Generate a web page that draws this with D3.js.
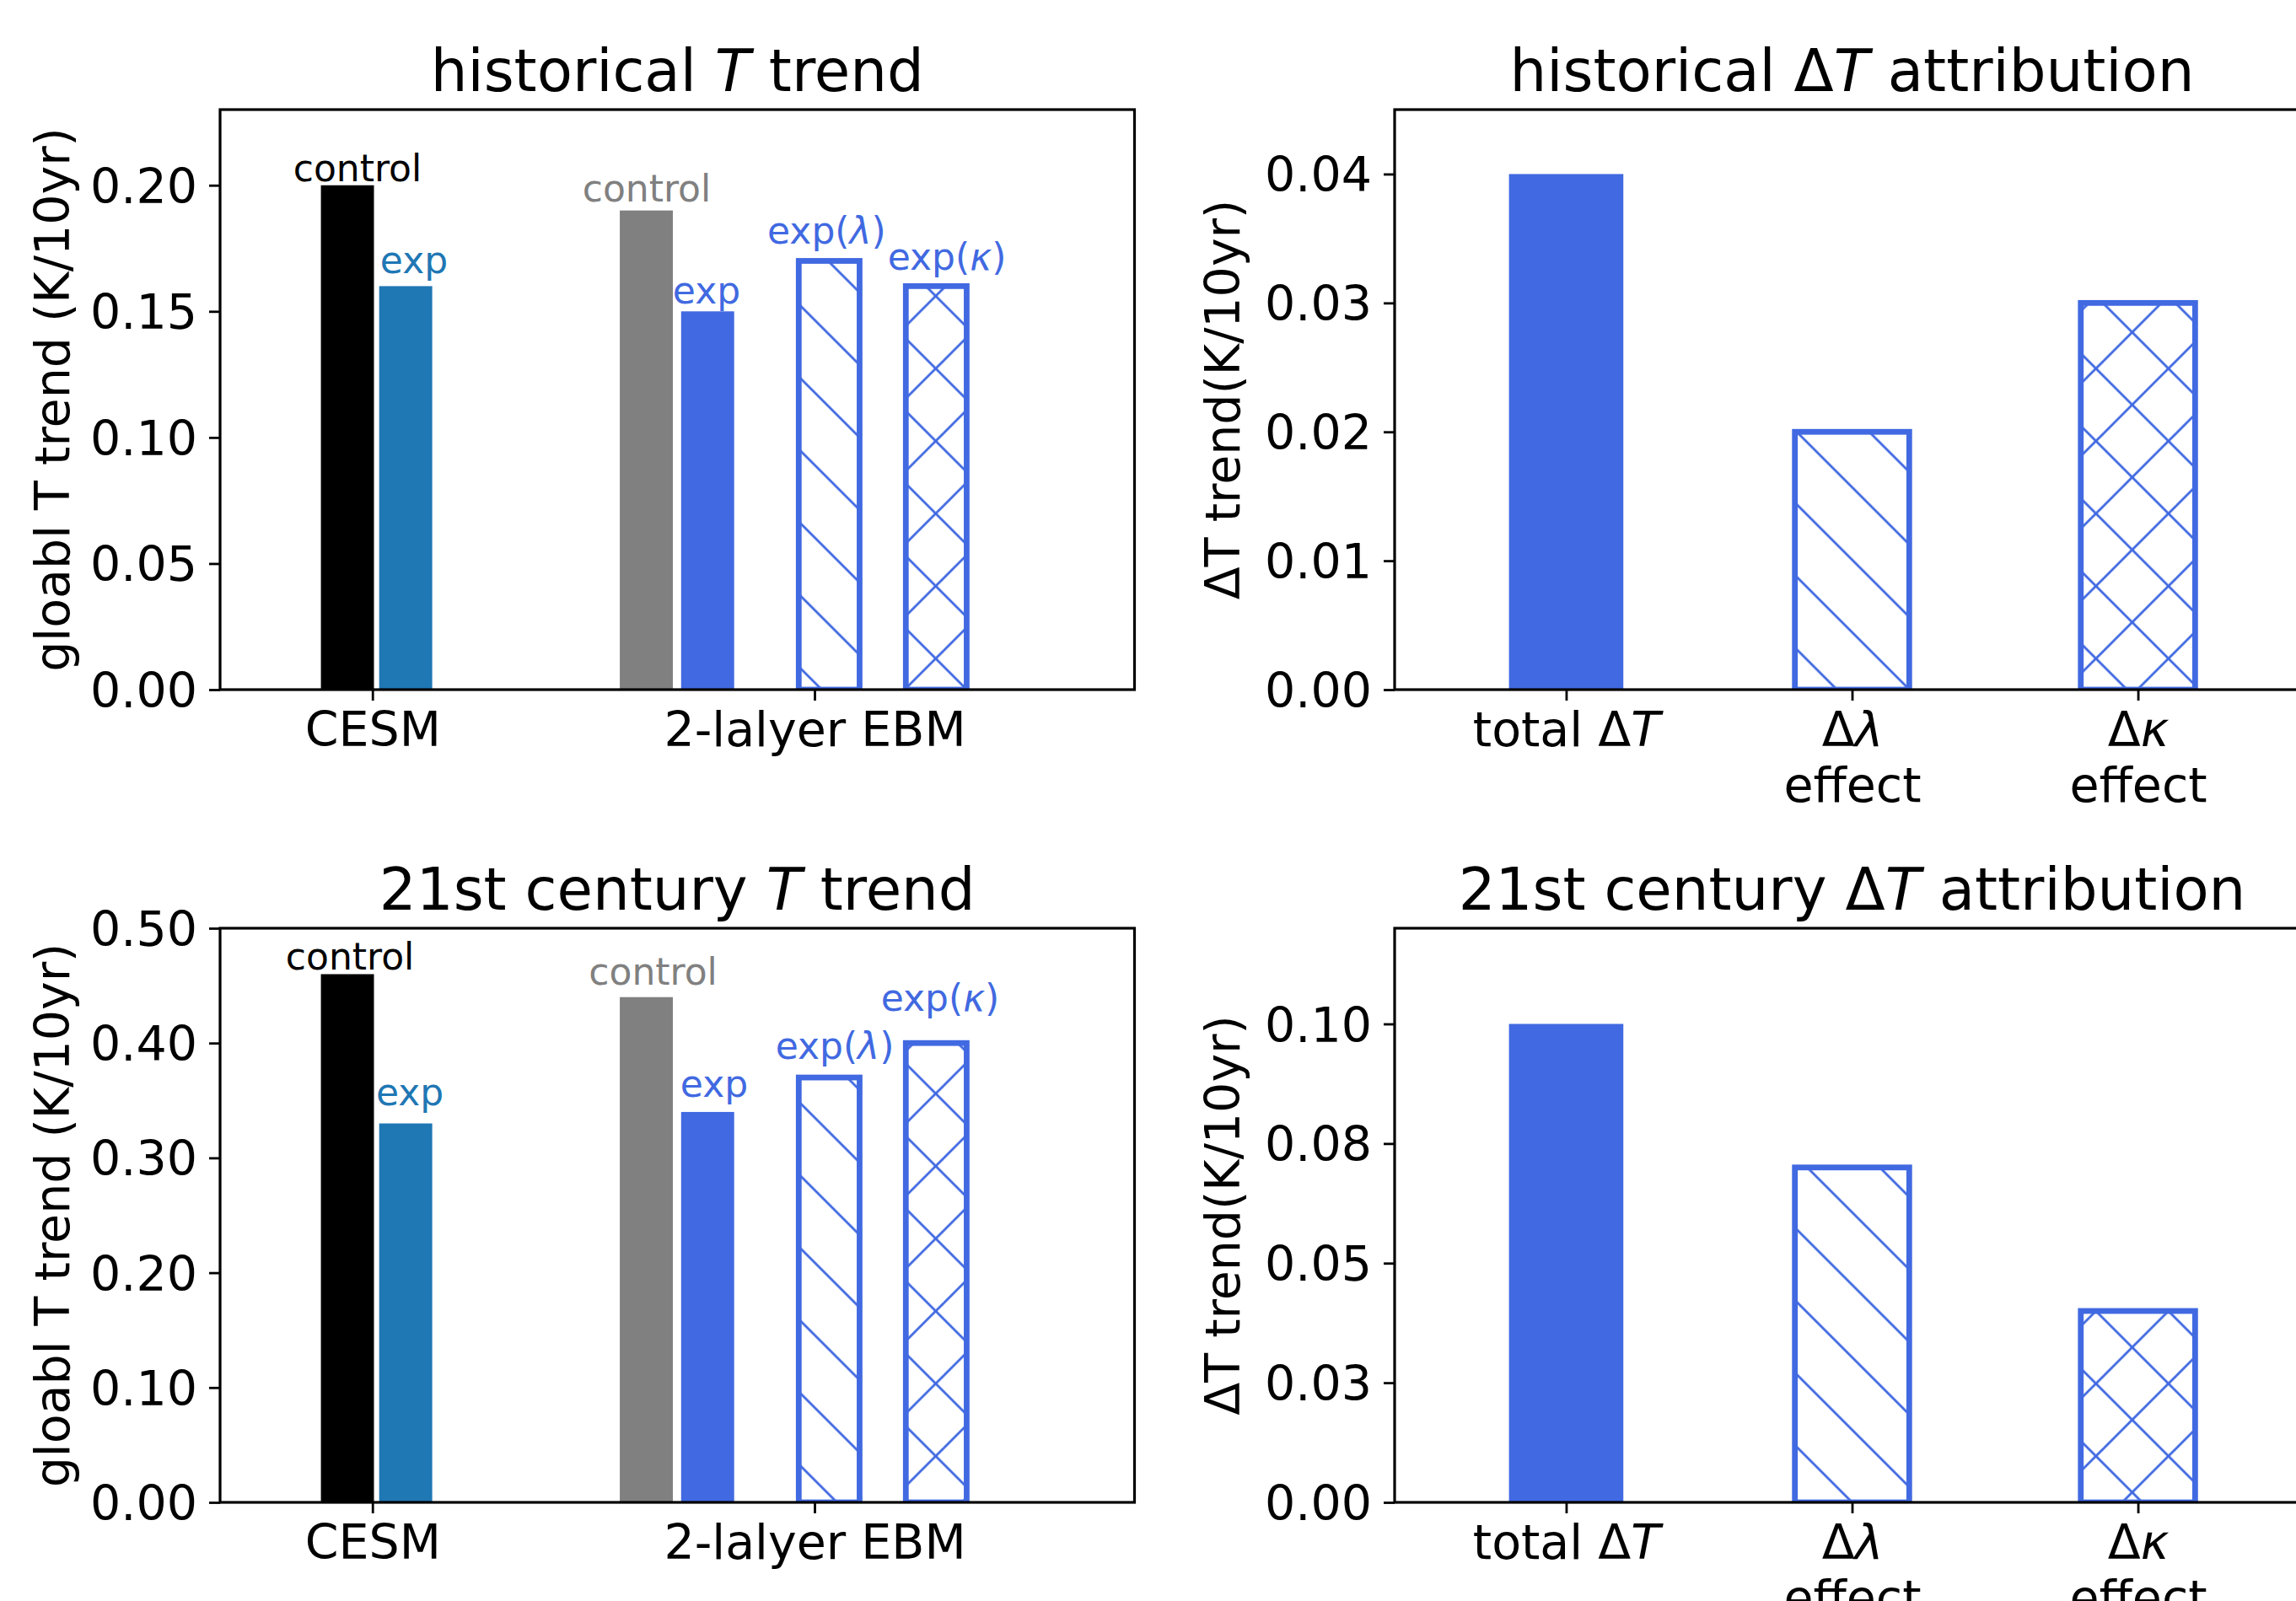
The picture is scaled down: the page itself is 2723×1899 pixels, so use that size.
<!DOCTYPE html>
<html><head><meta charset="utf-8">
<script src="https://cdn.jsdelivr.net/npm/d3@7"></script>
<style>
html,body{margin:0;padding:0;background:#fff;overflow:hidden;}
svg{display:block;font-family:"DejaVu Sans",sans-serif;}
text{white-space:pre;}
</style></head><body>
<script>
// ================= DATA =================
const groupCategories = ["CESM", "2-lalyer EBM"];
const groupTickX = [0, 1];
const trendBarLabels = ["control", "exp", "control", "exp", "exp(*λ*)", "exp(*κ*)"];
const histTrendValues = [0.20, 0.16, 0.19, 0.15, 0.17, 0.16];
const c21TrendValues  = [0.46, 0.33, 0.44, 0.34, 0.37, 0.40];
// bar x centres in group units (CESM = 0, EBM = 1)
const trendBarX = [-0.0566, 0.0752, 0.6195, 0.7582, 1.0331, 1.2753];
// label anchors (group units, data units) for each trend panel
const histLabelX = [-0.0338, 0.094, 0.6204, 0.7558, 1.0274, 1.2995];
const histLabelY = [0.2017, 0.165, 0.1936, 0.153, 0.177, 0.1666];
const c21LabelX  = [-0.0509, 0.0845, 0.6348, 0.773, 1.0457, 1.2842];
const c21LabelY  = [0.464, 0.346, 0.451, 0.353, 0.386, 0.428];

const attribCategories = ["total Δ*T*", "Δ*λ*\neffect", "Δ*κ*\neffect"];
const histAttribValues = [0.04, 0.02, 0.03];
const c21AttribValues  = [0.10, 0.07, 0.04];

const histTrendTicks = [0, 0.05, 0.10, 0.15, 0.20];
const histTrendTickLabels = ["0.00", "0.05", "0.10", "0.15", "0.20"];
const c21TrendTicks = [0, 0.1, 0.2, 0.3, 0.4, 0.5];
const c21TrendTickLabels = ["0.00", "0.10", "0.20", "0.30", "0.40", "0.50"];
const histAttribTicks = [0, 0.01, 0.02, 0.03, 0.04];
const histAttribTickLabels = ["0.00", "0.01", "0.02", "0.03", "0.04"];
const c21AttribTicks = [0, 0.025, 0.05, 0.075, 0.10];
const c21AttribTickLabels = ["0.00", "0.03", "0.05", "0.08", "0.10"];

// ================= STYLE / LAYOUT =================
const W = 2723, H = 1899;
const BLACK = "#000000", TABBLUE = "#1f77b4", GRAY = "#808080", ROYAL = "#4169e1";
const trendFill  = [BLACK, TABBLUE, GRAY, ROYAL, null, null];
const trendHatch = [null, null, null, null, "back", "cross"];
const trendWidth = [0.12, 0.12, 0.12, 0.12, 0.1376, 0.1376];
const trendLabelColor = [BLACK, TABBLUE, GRAY, ROYAL, ROYAL, ROYAL];
const attribFill  = [ROYAL, null, null];
const attribHatch = [null, "back", "cross"];
const ATTRIB_W = 0.4;

const FS_TICK = 57, FS_TITLE = 69, FS_YLAB = 57, FS_BAR = 44;
const SPINE_W = 3.2, TICK_W = 2.8, TICK_LEN = 13, EDGE_W = 6.8, HATCH_W = 2.8;
const P = 86, HATCH_OY = 15.4;

const svg = d3.select("body").append("svg").attr("width", W).attr("height", H);
svg.append("rect").attr("width", W).attr("height", H).attr("fill", "#fff");
const defs = svg.append("defs");

function makePattern(id, back, fwd) {
  const p = defs.append("pattern").attr("id", id).attr("patternUnits", "userSpaceOnUse")
    .attr("x", 0).attr("y", HATCH_OY).attr("width", P).attr("height", P);
  p.append("rect").attr("width", P).attr("height", P).attr("fill", "#fff");
  for (const k of [-1, 0, 1]) {
    if (back) p.append("line").attr("x1", -10).attr("y1", -10 + k * P).attr("x2", P + 10).attr("y2", P + 10 + k * P)
      .attr("stroke", ROYAL).attr("stroke-width", HATCH_W);
    if (fwd) { const c = 69.4 + k * P;
      p.append("line").attr("x1", -10).attr("y1", c + 10).attr("x2", P + 10).attr("y2", c - P - 10)
      .attr("stroke", ROYAL).attr("stroke-width", HATCH_W); }
  }
}
makePattern("hatch-back", true, false);
makePattern("hatch-cross", true, true);

function rich(textSel, str, x, lineH) {
  str.split("\n").forEach((line, i) => {
    let first = true;
    line.split("*").forEach((part, j) => {
      if (!part) return;
      const t = textSel.append("tspan").text(part);
      if (j % 2 === 1) t.attr("font-style", "italic");
      if (first) { t.attr("x", x); if (i > 0) t.attr("dy", lineH); first = false; }
    });
  });
}

const panels = [
  { kind: "trend", box: { l: 261, r: 1345.5, t: 130, b: 818 }, xDomain: [-0.3447, 1.7238], yMax: 0.23,
    values: histTrendValues, ticks: histTrendTicks, tickLabels: histTrendTickLabels,
    labelX: histLabelX, labelY: histLabelY, title: "historical *T* trend", titleY: 108,
    ylabel: "gloabl T trend (K/10yr)", ylabelX: 82 },
  { kind: "attrib", box: { l: 1654, r: 2739, t: 130, b: 818 }, xDomain: [-0.6, 2.6], yMax: 0.045,
    values: histAttribValues, ticks: histAttribTicks, tickLabels: histAttribTickLabels,
    title: "historical Δ*T* attribution", titleY: 108,
    ylabel: "ΔT trend(K/10yr)", ylabelX: 1470 },
  { kind: "trend", box: { l: 261, r: 1345.5, t: 1101, b: 1782 }, xDomain: [-0.3447, 1.7238], yMax: 0.5,
    values: c21TrendValues, ticks: c21TrendTicks, tickLabels: c21TrendTickLabels,
    labelX: c21LabelX, labelY: c21LabelY, title: "21st century *T* trend", titleY: 1078.5,
    ylabel: "gloabl T trend (K/10yr)", ylabelX: 82 },
  { kind: "attrib", box: { l: 1654, r: 2739, t: 1101, b: 1782 }, xDomain: [-0.6, 2.6], yMax: 0.12,
    values: c21AttribValues, ticks: c21AttribTicks, tickLabels: c21AttribTickLabels,
    title: "21st century Δ*T* attribution", titleY: 1078.5,
    ylabel: "ΔT trend(K/10yr)", ylabelX: 1470 }
];

panels.forEach((pn, pi) => {
  const { l, r, t, b } = pn.box;
  const x = d3.scaleLinear().domain(pn.xDomain).range([l, r]);
  const y = d3.scaleLinear().domain([0, pn.yMax]).range([b, t]);
  const clipId = "clip" + pi;
  defs.append("clipPath").attr("id", clipId).append("rect")
    .attr("x", l).attr("y", t).attr("width", r - l).attr("height", b - t);

  const isTrend = pn.kind === "trend";
  const bars = pn.values.map((v, i) => ({
    v,
    cx: isTrend ? trendBarX[i] : i,
    w: isTrend ? trendWidth[i] : ATTRIB_W,
    fill: isTrend ? trendFill[i] : attribFill[i],
    hatch: isTrend ? trendHatch[i] : attribHatch[i]
  }));

  const g = svg.append("g").attr("clip-path", `url(#${clipId})`);
  g.selectAll("rect.bar").data(bars).join("rect").attr("class", "bar")
    .attr("x", d => x(d.cx - d.w / 2))
    .attr("width", d => x(d.cx + d.w / 2) - x(d.cx - d.w / 2))
    .attr("y", d => y(d.v))
    .attr("height", d => y(0) - y(d.v))
    .attr("fill", d => d.hatch ? `url(#hatch-${d.hatch})` : d.fill)
    .attr("stroke", d => d.hatch ? ROYAL : "none")
    .attr("stroke-width", d => d.hatch ? EDGE_W : 0);

  // frame
  svg.append("rect").attr("x", l).attr("y", t).attr("width", r - l).attr("height", b - t)
    .attr("fill", "none").attr("stroke", "#000").attr("stroke-width", SPINE_W);

  // y axis
  const yAxis = d3.axisLeft(y).tickValues(pn.ticks).tickSize(TICK_LEN).tickPadding(14)
    .tickFormat((d, i) => pn.tickLabels[i]);
  const ya = svg.append("g").attr("transform", `translate(${l},0)`).call(yAxis);
  ya.select(".domain").remove();
  ya.selectAll(".tick line").attr("stroke", "#000").attr("stroke-width", TICK_W);
  ya.selectAll(".tick text").attr("font-size", FS_TICK).attr("font-family", "DejaVu Sans")
    .attr("fill", "#000").attr("dy", "0.36em");

  // x axis
  const xTicks = isTrend ? groupTickX : [0, 1, 2];
  const xLabels = isTrend ? groupCategories : attribCategories;
  const xAxis = d3.axisBottom(x).tickValues(xTicks).tickSize(TICK_LEN).tickPadding(14).tickFormat("");
  const xa = svg.append("g").attr("transform", `translate(0,${b})`).call(xAxis);
  xa.select(".domain").remove();
  xa.selectAll(".tick line").attr("stroke", "#000").attr("stroke-width", TICK_W);
  xa.selectAll(".tick text").each(function (d, i) {
    const txt = d3.select(this).attr("font-size", FS_TICK).attr("font-family", "DejaVu Sans")
      .attr("fill", "#000").attr("y", TICK_LEN + 14).attr("dy", "0.71em").text(null);
    rich(txt, xLabels[i], 0, 66);
  });

  // title
  const tt = svg.append("text").attr("x", (l + r) / 2).attr("y", pn.titleY)
    .attr("text-anchor", "middle").attr("font-size", FS_TITLE).attr("fill", "#000");
  rich(tt, pn.title, (l + r) / 2, 0);

  // y label
  svg.append("text").attr("transform", `translate(${pn.ylabelX},${(t + b) / 2}) rotate(-90)`)
    .attr("text-anchor", "middle").attr("font-size", FS_YLAB).attr("fill", "#000").text(pn.ylabel);

  // bar annotations
  if (isTrend) {
    trendBarLabels.forEach((lab, i) => {
      const tx = svg.append("text").attr("x", x(pn.labelX[i])).attr("y", y(pn.labelY[i]))
        .attr("text-anchor", "middle").attr("font-size", FS_BAR).attr("fill", trendLabelColor[i]);
      rich(tx, lab, x(pn.labelX[i]), 0);
    });
  }
});
</script>
</body></html>
